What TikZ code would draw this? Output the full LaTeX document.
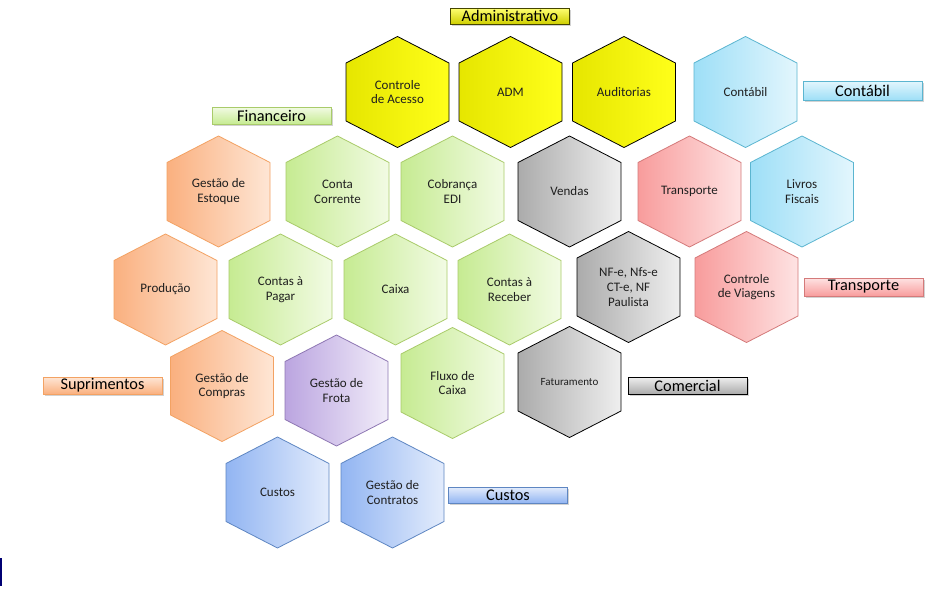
\documentclass[tikz,border=0pt]{standalone}
\usepackage{fontspec}
\setmainfont{Carlito}
\usetikzlibrary{shadows}
\definecolor{yelL}{HTML}{E6E600}
\definecolor{yelR}{HTML}{FFFF1A}
\definecolor{aquL}{HTML}{9EDFF7}
\definecolor{aquR}{HTML}{E3F6FD}
\definecolor{aquD}{HTML}{5BB5D0}
\definecolor{oraL}{HTML}{FAB07F}
\definecolor{oraR}{HTML}{FEE6D5}
\definecolor{oraD}{HTML}{F3A263}
\definecolor{greL}{HTML}{C6EB92}
\definecolor{greR}{HTML}{F2FBE4}
\definecolor{greD}{HTML}{A9CB6A}
\definecolor{gryL}{HTML}{ABABAB}
\definecolor{gryR}{HTML}{EFEFEF}
\definecolor{redL}{HTML}{F89C9C}
\definecolor{redR}{HTML}{FEE3E3}
\definecolor{redD}{HTML}{D47A7A}
\definecolor{purL}{HTML}{BBA5E0}
\definecolor{purR}{HTML}{F1ECF9}
\definecolor{purD}{HTML}{8E77B3}
\definecolor{bluL}{HTML}{92B5F2}
\definecolor{bluR}{HTML}{E3ECFC}
\definecolor{bluD}{HTML}{5E86C2}
\tikzset{
  hexbase/.style={line width=0.8pt, line join=round},
  hyellow/.style={hexbase, draw=black, left color=yelL, right color=yelR},
  haqua/.style={hexbase, draw=aquD, left color=aquL, right color=aquR},
  horange/.style={hexbase, draw=oraD, left color=oraL, right color=oraR},
  hgreen/.style={hexbase, draw=greD, left color=greL, right color=greR},
  hgray/.style={hexbase, draw=black, left color=gryL, right color=gryR},
  hred/.style={hexbase, draw=redD, left color=redL, right color=redR},
  hpurple/.style={hexbase, draw=purD, left color=purL, right color=purR},
  hblue/.style={hexbase, draw=bluD, left color=bluL, right color=bluR},
  hextext/.style={font=\fontsize{13}{14.7}\selectfont, align=center, text=black!88, inner sep=0pt},
  labbox/.style={line width=0.6pt, minimum width=119pt, minimum height=17pt, inner sep=0pt,
    font=\fontsize{16.3}{17}\selectfont, text=black,
    drop shadow={shadow xshift=1.5pt, shadow yshift=-1.5pt, opacity=0.35}},
  lyellow/.style={labbox, draw=black!70!yelL, top color=yellow!55!white, bottom color=yelL!90!black},
  laqua/.style={labbox, draw=aquD, top color=aquR, bottom color=aquL},
  lorange/.style={labbox, draw=oraD, top color=oraR, bottom color=oraL},
  lgreen/.style={labbox, draw=greD, top color=greR, bottom color=greL},
  lgray/.style={labbox, draw=black, top color=gryR, bottom color=gryL},
  lred/.style={labbox, draw=redD, top color=redR, bottom color=redL},
  lblue/.style={labbox, draw=bluD, top color=bluR, bottom color=bluL}
}
\newcommand{\hexcell}[5]{%
  \path[#4] (#2,#3) ++(0,-55.5) -- ++(51.5,26.5) -- ++(0,58) -- ++(-51.5,26.5)
    -- ++(-51.5,-26.5) -- ++(0,-58) -- cycle;
  \node[hextext] (#1) at (#2,#3) {#5};
}
\begin{document}
\begin{tikzpicture}[x=1pt,y=-1pt]
\useasboundingbox (0,0) rectangle (929,589);
\fill[white] (0,0) rectangle (929,589);
% row 1
\hexcell{acesso}{397.5}{92}{hyellow}{Controle\\de Acesso}
\hexcell{adm}{510.5}{92}{hyellow}{ADM}
\hexcell{audit}{624}{92}{hyellow}{Auditorias}
\hexcell{contabil}{745.5}{92}{haqua}{Contábil}
% row 2
\hexcell{estoque}{218.5}{191.5}{horange}{Gestão de\\Estoque}
\hexcell{corrente}{337.5}{191.5}{hgreen}{Conta\\Corrente}
\hexcell{cobranca}{452.5}{191.5}{hgreen}{Cobrança\\EDI}
\hexcell{vendas}{569.5}{191.5}{hgray}{Vendas}
\hexcell{transp}{689.5}{191.5}{hred}{Transporte}
\hexcell{livros}{802}{191.5}{haqua}{Livros\\Fiscais}
% row 3
\hexcell{producao}{165.5}{289.5}{horange}{Produção}
\hexcell{pagar}{280.5}{289.5}{hgreen}{Contas à\\Pagar}
\hexcell{caixa}{395.5}{289.5}{hgreen}{Caixa}
\hexcell{receber}{509.5}{289.5}{hgreen}{Contas à\\Receber}
\hexcell{nfe}{628.5}{287}{hgray}{NF-e, Nfs-e\\CT-e, NF\\Paulista}
\hexcell{viagens}{746.5}{287}{hred}{Controle\\de Viagens}
% row 4
\hexcell{compras}{222}{386}{horange}{Gestão de\\Compras}
\hexcell{frota}{336.5}{390.5}{hpurple}{Gestão de\\Frota}
\hexcell{fluxo}{452.5}{383}{hgreen}{Fluxo de\\Caixa}
\path[hgray] (569.5,382) ++(0,-55.5) -- ++(51.5,26.5) -- ++(0,58) -- ++(-51.5,26.5)
    -- ++(-51.5,-26.5) -- ++(0,-58) -- cycle;
\node[hextext, font=\fontsize{11}{13}\selectfont] (fatur) at (569.5,382) {Faturamento};
% row 5
\hexcell{custos}{277.5}{492.5}{hblue}{Custos}
\hexcell{contratos}{392.5}{492.5}{hblue}{Gestão de\\Contratos}
% labels
\node[lyellow, minimum height=16pt] (lAdm) at (510,16) {Administrativo};
\node[lgreen] (lFin) at (271.5,115.5) {Financeiro};
\node[laqua, minimum height=19pt] (lCont) at (862.5,90.5) {Contábil};
\node[lred, minimum height=18pt] (lTransp) at (863.5,287) {Transporte};
\node[lgray] (lCom) at (687.5,385.5) {Comercial};
\node[lorange] (lSup) at (102.5,385.5) {Suprimentos};
\node[lblue, minimum height=16pt] (lCustos) at (508,495) {Custos};
% small edge mark
\fill[blue!45!black] (0,558) rectangle (1.5,586);
\end{tikzpicture}
\end{document}
